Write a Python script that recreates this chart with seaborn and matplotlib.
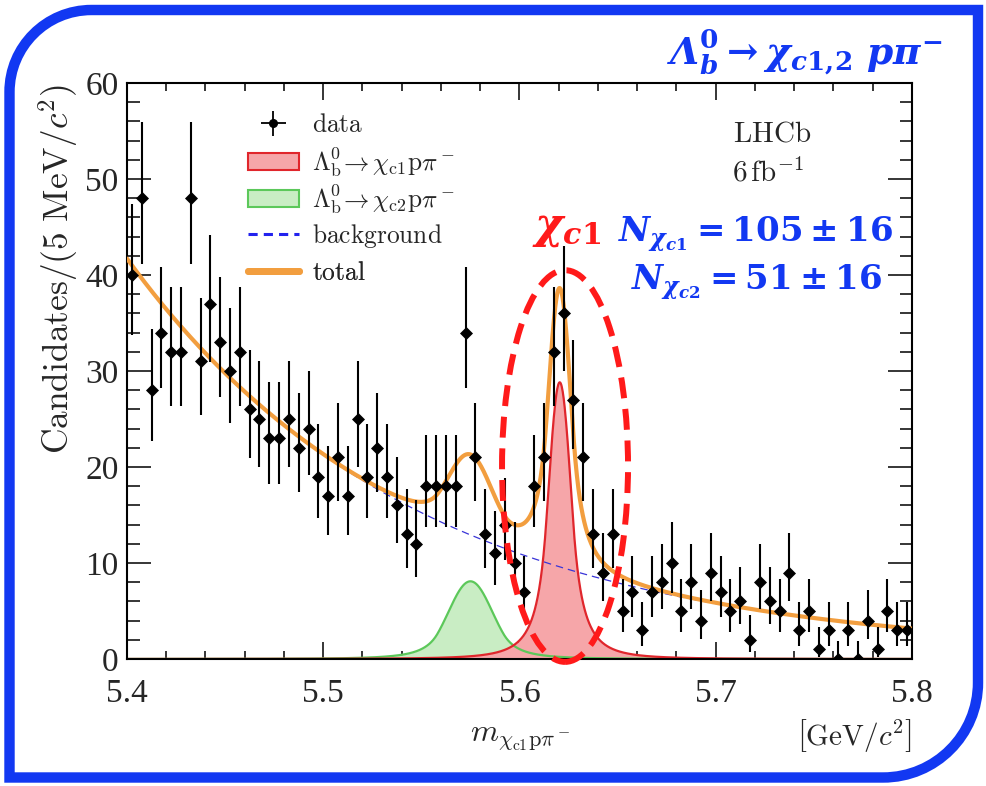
import numpy as np
import pandas as pd
import seaborn as sns
import matplotlib
matplotlib.use("Agg")
import matplotlib.pyplot as plt
from matplotlib.patches import Patch, Ellipse, PathPatch
from matplotlib.lines import Line2D
from matplotlib.path import Path
from matplotlib.font_manager import FontProperties

# ---------------- data: candidates per 5 MeV/c^2 bin ----------------
mass_lo, mass_hi, bin_width = 5.40, 5.80, 0.005
counts = [40, 48, 28, 34, 32, 32, 48, 31, 37, 33, 30, 32,
          26, 25, 23, 23, 25, 22, 24, 19, 17, 21,
          17, 25, 19, 22, 19, 16, 13, 12, 18, 18, 18, 18,
          34, 21, 13, 11, 14, 10, 7, 18, 21,
          32, 36, 27, 21, 13, 9, 13, 5, 7, 3, 7, 8,
          10, 5, 8, 4, 9, 7, 5, 6, 2, 8, 6, 5, 9, 3, 5, 1, 3, 0, 3, 0, 4, 1, 5, 3, 3]

# ---------------- fit results ----------------
yield_c1, yield_c1_err = 105, 16
yield_c2, yield_c2_err = 51, 16
# double-sided Crystal Ball shapes (GeV)
shape_c1 = dict(mu=5.6205, sigma=0.0058, alpha=1.2, n=3.0)
shape_c2 = dict(mu=5.5750, sigma=0.0112, alpha=1.5, n=3.0)
# background: exponential plus constant, candidates per bin
bkg_norm, bkg_slope, bkg_const = 41.2, 6.85, 0.5

x_ticks = [5.4, 5.5, 5.6, 5.7, 5.8]
y_ticks = [0, 10, 20, 30, 40, 50, 60]

BLUE = "#1238F2"
RED = "#FF1A1A"

# ---------------- style ----------------
sns.set_theme(style="ticks")
plt.rcParams.update({
    "font.family": ["Liberation Serif", "DejaVu Serif"],
    "mathtext.fontset": "custom",
    "mathtext.it": "DejaVu Serif:italic:bold",
    "mathtext.rm": "DejaVu Serif:bold",
    "mathtext.bf": "DejaVu Serif:bold",
    "mathtext.cal": "DejaVu Serif:italic:bold",
    "axes.linewidth": 1.5,
})

W, H = 987, 786
fig = plt.figure(figsize=(W / 100, H / 100), dpi=100)
fig.patch.set_facecolor("white")
ax = fig.add_axes([127 / W, 1 - 659 / H, 785 / W, 576 / H])
ax.set_facecolor("white")


def fx(x):
    return x / W


def fy(y):
    return 1 - y / H


# ---------------- model curves ----------------
def dscb(x, mu, sigma, alpha, n):
    t = (x - mu) / sigma
    a = (n / alpha) ** n * np.exp(-alpha ** 2 / 2)
    b = n / alpha - alpha
    out = np.exp(-0.5 * t ** 2)
    left = t < -alpha
    right = t > alpha
    out[left] = a * (b - t[left]) ** (-n)
    out[right] = a * (b + t[right]) ** (-n)
    return out


m = np.linspace(mass_lo, mass_hi, 1601)


def per_bin(shape, nyield):
    f = dscb(m, **shape)
    f = f / np.trapezoid(f, m)
    return nyield * bin_width * f


sig_c1 = per_bin(shape_c1, yield_c1)
sig_c2 = per_bin(shape_c2, yield_c2)
bkg = bkg_const + bkg_norm * np.exp(-bkg_slope * (m - mass_lo))
total = bkg + sig_c1 + sig_c2
curves = pd.DataFrame({"m": m, "c1": sig_c1, "c2": sig_c2, "bkg": bkg, "total": total})

# ---------------- data points with Poisson intervals ----------------
n = np.asarray(counts, dtype=float)
centers = mass_lo + bin_width * (np.arange(len(n)) + 0.5)


def chi2_quant(k, z):
    k = np.maximum(k, 1e-9)
    return k * (1 - 2 / (9 * k) + z * np.sqrt(2 / (9 * k))) ** 3


lower = np.where(n > 0, 0.5 * chi2_quant(2 * n, -1.0), 0.0)
upper = 0.5 * chi2_quant(2 * n + 2, 1.0)
data = pd.DataFrame({"m": centers, "n": n, "lo": lower, "hi": upper})

# ---------------- draw ----------------
c2_fill, c2_edge = "#C9EDC4", "#5CC85A"
c1_fill, c1_edge = "#F6A6A9", "#E0262C"
tot_col, bkg_col = "#F29E3F", "#3A35D8"

ax.fill_between(curves["m"], 0, curves["c2"], color=c2_fill, lw=0, zorder=1)
sns.lineplot(data=curves, x="m", y="c2", ax=ax, color=c2_edge, lw=1.6, zorder=2)
ax.fill_between(curves["m"], 0, curves["c1"], color=c1_fill, lw=0, zorder=1.5)
sns.lineplot(data=curves, x="m", y="c1", ax=ax, color=c1_edge, lw=1.6, zorder=2.5)
sns.lineplot(data=curves, x="m", y="bkg", ax=ax, color=bkg_col, lw=0.9,
             linestyle=(0, (6, 4)), zorder=3)
sns.lineplot(data=curves, x="m", y="total", ax=ax, color=tot_col, lw=3.0, zorder=4)

ax.vlines(data["m"], data["lo"], data["hi"], color="black", lw=1.5, zorder=5)
sns.scatterplot(data=data, x="m", y="n", ax=ax, marker="D", s=44, color="black",
                edgecolor="black", linewidth=0, zorder=6)

# highlight around the chi_c1 peak
ax.add_patch(Ellipse((5.6232, 20.1), 0.0642, 40.8, fill=False, edgecolor=RED,
                     lw=4.3, linestyle=(0, (3.5, 1.8)), clip_on=False, zorder=7))

# ---------------- axes ----------------
ax.set_xlim(mass_lo, mass_hi)
ax.set_ylim(0, 60)
tick_font = FontProperties(family="Liberation Serif", size=24)
ax.set_xticks(x_ticks)
ax.set_xticklabels([f"{v:.1f}" for v in x_ticks], fontproperties=tick_font)
ax.set_yticks(y_ticks)
ax.set_yticklabels([str(v) for v in y_ticks], fontproperties=tick_font)
ax.set_xticks(np.arange(5.4, 5.8001, 0.02), minor=True)
ax.set_yticks(np.arange(0, 60.001, 2), minor=True)
ax.set_xlabel("")
ax.set_ylabel("")
for s in ax.spines.values():
    s.set_visible(True)
    s.set_color("black")
    s.set_linewidth(1.5)
ax.tick_params(axis="both", which="both", direction="in", top=True, right=True,
               color="black", width=1.1)
ax.tick_params(axis="x", which="major", length=12, pad=14)
ax.tick_params(axis="x", which="minor", length=6)
ax.tick_params(axis="y", which="major", length=17, pad=6)
ax.tick_params(axis="y", which="minor", length=9)

# ---------------- legend (one row per entry, evenly spaced) ----------------
leg_font = FontProperties(size=18.3, math_fontfamily="cm")
handles = [
    (Line2D([], [], ls="", marker="+", ms=18, mew=1.3, color="black"),
     Line2D([], [], ls="", marker="o", ms=5.5, color="black")),
    Patch(facecolor=c1_fill, edgecolor=c1_edge, lw=1.5),
    Patch(facecolor=c2_fill, edgecolor=c2_edge, lw=1.5),
    Line2D([], [], color="#2222EE", lw=2.2, linestyle=(0, (3, 2))),
    Line2D([], [], color=tot_col, lw=5),
]
labels = [
    r"$\mathrm{data}$",
    r"$\Lambda^0_\mathrm{b}\!\rightarrow \chi_\mathrm{c1}\mathrm{p}\pi^-$",
    r"$\Lambda^0_\mathrm{b}\!\rightarrow \chi_\mathrm{c2}\mathrm{p}\pi^-$",
    r"$\mathrm{background}$",
    r"$\mathrm{total}$",
]
row_px = [125, 162, 199, 236, 273]
for h, lab, ypx in zip(handles, labels, row_px):
    leg = ax.legend([h], [lab], prop=leg_font, loc="center left",
                    bbox_to_anchor=(fx(248), fy(ypx)), bbox_transform=fig.transFigure,
                    frameon=False, borderpad=0, borderaxespad=0, handlelength=2.0,
                    handletextpad=0.5)
    ax.add_artist(leg)

# ---------------- texts ----------------
fig.text(fx(772), fy(141.7), r"$\mathrm{LHCb}$", fontsize=21, ha="center",
         va="baseline", math_fontfamily="cm")
fig.text(fx(768), fy(181.7), r"$6\,\mathrm{fb}^{-1}$", fontsize=21, ha="center",
         va="baseline", math_fontfamily="cm")

fig.text(fx(58), fy(84), r"$\mathrm{Candidates}/(5\ \mathrm{MeV}/c^2)$", fontsize=25.5,
         rotation=90, ha="center", va="top", math_fontfamily="cm")
fig.text(fx(520), fy(742), r"$m_{\chi_\mathrm{c1}\mathrm{p}\pi^-}$", fontsize=23,
         ha="center", va="baseline", math_fontfamily="cm")
fig.text(fx(912), fy(745), r"$\left[\mathrm{GeV}/c^2\right]$", fontsize=21,
         ha="right", va="baseline", math_fontfamily="cm")

fig.text(fx(943), fy(65), r"$\mathcal{\Lambda}_{b}^{0}\rightarrow\chi_{c1{,}2}\ p\pi^{-}$",
         fontsize=27, color=BLUE, ha="right", va="baseline")
fig.text(fx(567), fy(238), r"$\chi_{c1}$", fontsize=31, color=RED, ha="center",
         va="baseline")
fig.text(fx(893), fy(242), rf"$N_{{\chi_{{c1}}}} = {yield_c1} \pm {yield_c1_err}$",
         fontsize=24.5, color=BLUE, ha="right", va="baseline")
fig.text(fx(882), fy(290), rf"$N_{{\chi_{{c2}}}} = {yield_c2} \pm {yield_c2_err}$",
         fontsize=24.5, color=BLUE, ha="right", va="baseline")

# ---------------- frame with two rounded corners ----------------
bax = fig.add_axes([0, 0, 1, 1], zorder=20)
bax.set_xlim(0, W)
bax.set_ylim(H, 0)
bax.axis("off")
bax.patch.set_alpha(0)
L, R, T, B = 9.5, 978.0, 10.0, 777.5
r1, r2, k = 82.0, 95.0, 0.5523
verts = [
    (L, B), (L, T + r1),
    (L, T + r1 * (1 - k)), (L + r1 * (1 - k), T), (L + r1, T),
    (R, T), (R, B - r2),
    (R, B - r2 * (1 - k)), (R - r2 * (1 - k), B), (R - r2, B),
    (L, B), (L, B),
]
codes = [Path.MOVETO, Path.LINETO,
         Path.CURVE4, Path.CURVE4, Path.CURVE4,
         Path.LINETO, Path.LINETO,
         Path.CURVE4, Path.CURVE4, Path.CURVE4,
         Path.LINETO, Path.CLOSEPOLY]
bax.add_patch(PathPatch(Path(verts, codes), fill=False, edgecolor=BLUE, lw=7.5,
                        joinstyle="miter"))

fig.savefig("out.png", dpi=100)
